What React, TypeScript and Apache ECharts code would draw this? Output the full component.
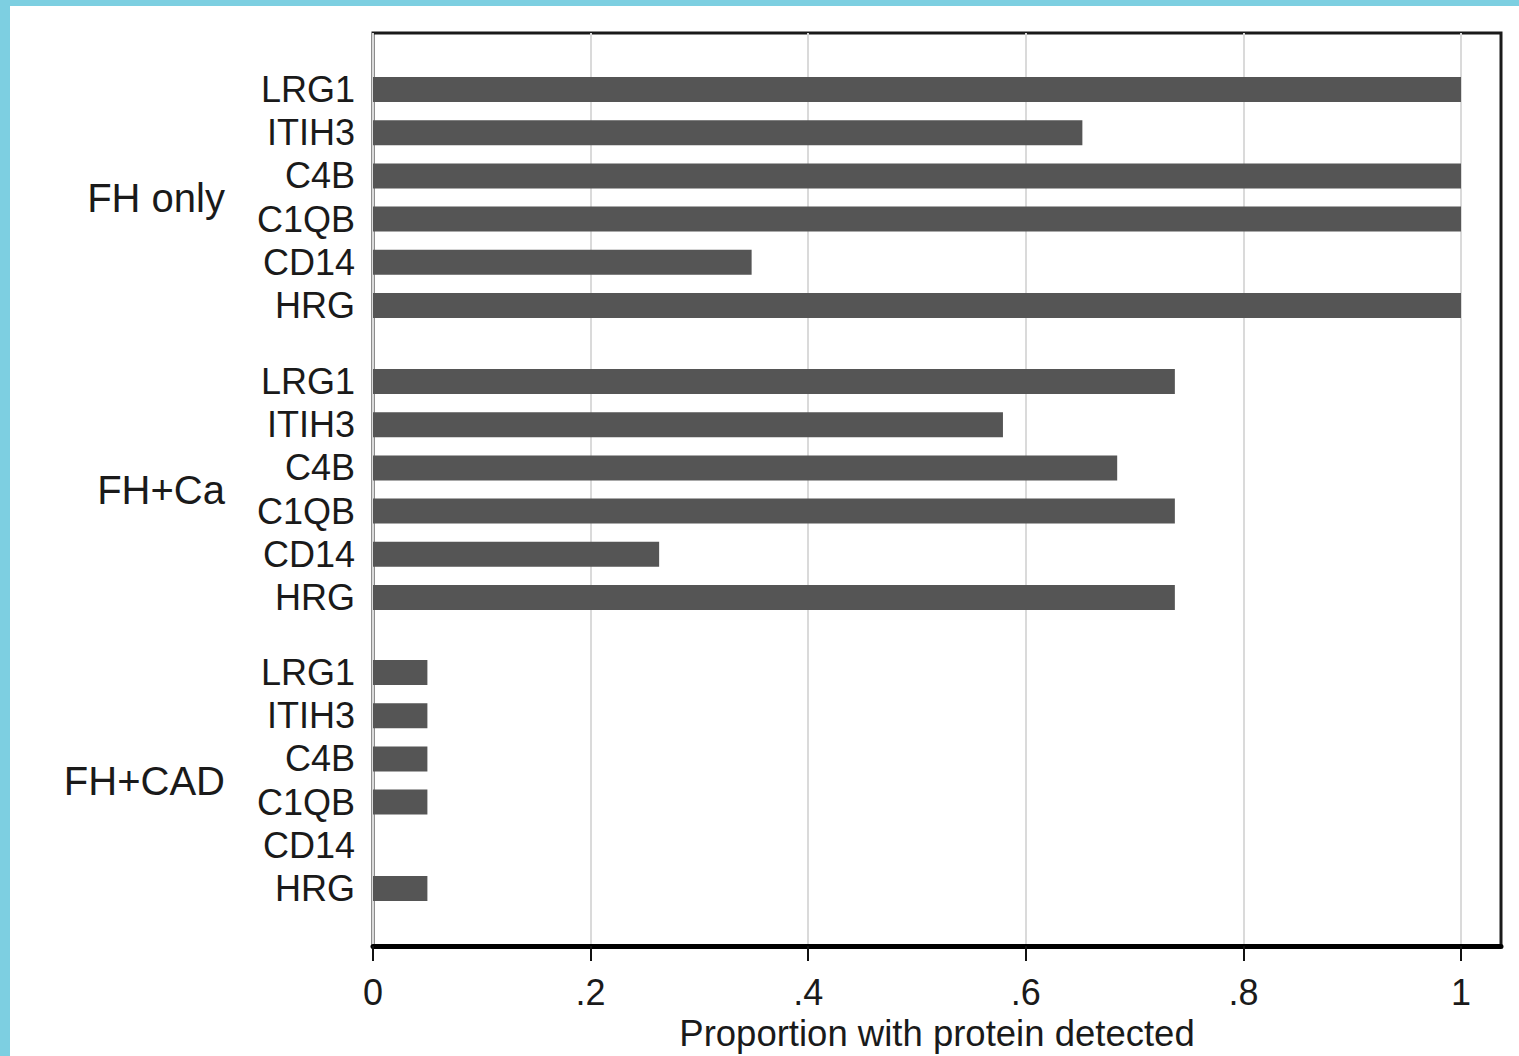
import React, { useEffect, useRef } from "react";
import * as echarts from "echarts";

const proteins = ["LRG1", "ITIH3", "C4B", "C1QB", "CD14", "HRG"];
const groups = ["FH only", "FH+Ca", "FH+CAD"];
const fhOnly = [1, 0.652, 1, 1, 0.348, 1];
const fhCa = [0.737, 0.579, 0.684, 0.737, 0.263, 0.737];
const fhCad = [0.05, 0.05, 0.05, 0.05, 0, 0.05];
const groupValues = [fhOnly, fhCa, fhCad];
const tickValues = [0, 0.2, 0.4, 0.6, 0.8, 1];
const tickLabels = ["0", ".2", ".4", ".6", ".8", "1"];
const xTitle = "Proportion with protein detected";

const FONT = "'Liberation Sans', Arial, Helvetica, sans-serif";
const PLOT_LEFT = 373;
const PLOT_TOP = 33;
const PLOT_W = 1128;
const PLOT_H = 913;
const UNIT_PX = 1088;
const X_MAX = PLOT_W / UNIT_PX;
const GROUP_TOPS = [68, 360, 651];
const GROUP_H = 259;

export default function App() {
  const ref = useRef<HTMLDivElement>(null);

  useEffect(() => {
    document.body.style.margin = "0";
    const chart = echarts.init(ref.current!, null, { renderer: "svg" });

    const grids: any[] = [
      {
        left: PLOT_LEFT,
        top: PLOT_TOP,
        width: PLOT_W,
        height: PLOT_H,
        show: true,
        borderColor: "#1a1a1a",
        borderWidth: 3,
        backgroundColor: "transparent",
        containLabel: false,
        outerBoundsMode: "none",
      },
    ];
    const xAxes: any[] = [
      {
        type: "value",
        gridIndex: 0,
        min: 0,
        max: X_MAX,
        interval: 0.2,
        axisLine: { show: true, onZero: false, lineStyle: { color: "#000", width: 5 } },
        axisTick: {
          show: true,
          length: 15,
          customValues: tickValues,
          lineStyle: { color: "#111", width: 2 },
        },
        axisLabel: {
          customValues: tickValues,
          margin: 28,
          fontSize: 36,
          fontFamily: FONT,
          color: "#1a1a1a",
          formatter: (v: number) => {
            const i = tickValues.findIndex((t) => Math.abs(t - v) < 1e-6);
            return i >= 0 ? tickLabels[i] : "";
          },
        },
        splitLine: { show: true, lineStyle: { color: "#dadada", width: 2 } },
        name: xTitle,
        nameLocation: "middle",
        nameGap: 65,
        nameTextStyle: { fontSize: 36.5, fontFamily: FONT, color: "#1a1a1a" },
      },
    ];
    const yAxes: any[] = [
      { type: "value", gridIndex: 0, show: false, min: 0, max: 1 },
    ];
    const series: any[] = [];

    groups.forEach((g, gi) => {
      const idx = gi + 1;
      grids.push({
        left: PLOT_LEFT,
        top: GROUP_TOPS[gi],
        width: PLOT_W,
        height: GROUP_H,
        containLabel: false,
        outerBoundsMode: "none",
      });
      xAxes.push({
        type: "value",
        gridIndex: idx,
        min: 0,
        max: X_MAX,
        show: false,
        splitLine: { show: false },
      });
      yAxes.push({
        type: "category",
        gridIndex: idx,
        data: proteins,
        inverse: true,
        axisLine: { show: false },
        axisTick: { show: false },
        splitLine: { show: false },
        axisLabel: {
          interval: 0,
          hideOverlap: false,
          margin: 18,
          fontSize: 36,
          fontFamily: FONT,
          color: "#1a1a1a",
        },
        name: g,
        nameLocation: "middle",
        nameRotate: 0,
        nameGap: 148,
        nameTextStyle: {
          fontSize: 40,
          fontFamily: FONT,
          color: "#1a1a1a",
          align: "right",
          verticalAlign: "middle",
        },
      });
      series.push({
        type: "bar",
        name: g,
        xAxisIndex: idx,
        yAxisIndex: idx,
        data: groupValues[gi],
        barWidth: 25,
        itemStyle: { color: "#555555" },
        z: 5,
      });
    });

    chart.setOption({
      animation: false,
      backgroundColor: "#ffffff",
      grid: grids,
      xAxis: xAxes,
      yAxis: yAxes,
      series,
      graphic: [
        { type: "rect", left: 0, top: 0, shape: { width: 10, height: 1056 }, style: { fill: "#7dcfe1" }, z: 100 },
        { type: "rect", left: 0, top: 0, shape: { width: 1519, height: 6 }, style: { fill: "#7dcfe1" }, z: 100 },
      ],
    });

    return () => chart.dispose();
  }, []);

  return <div ref={ref} style={{ width: 1519, height: 1056 }} />;
}
